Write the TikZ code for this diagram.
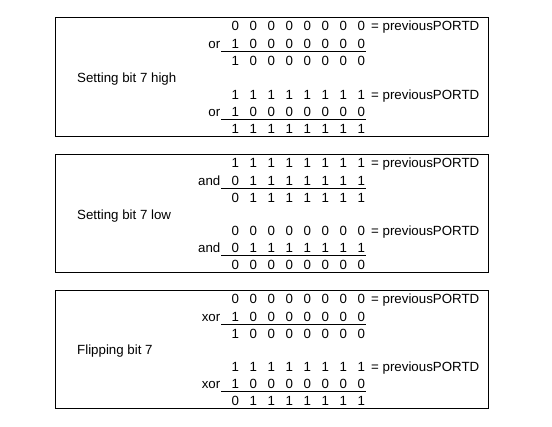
\documentclass[tikz,border=0pt]{standalone}
\usepackage{fontspec}
\setmainfont{Liberation Sans}
\newcommand{\txtfont}{\fontsize{13.3}{16}\selectfont}
\tikzset{
  bit/.style={anchor=base, inner sep=0pt, font=\txtfont},
  opname/.style={anchor=base east, inner sep=0pt, font=\txtfont},
  prevtxt/.style={anchor=base west, inner sep=0pt, font=\txtfont},
  lbl/.style={anchor=base west, inner sep=0pt, font=\txtfont},
  frame/.style={draw, line width=1pt, inner sep=0pt, anchor=north west,
    minimum width=433pt, minimum height=118.4pt},
  sumrule/.style={line width=1pt}
}
\newcommand{\bitrow}[3]{%
  \foreach \b [count=\i] in {#3} {\node[bit] (#1c\i) at ({235.4+18*(\i-1)},#2) {\b};}}
% #1 name, #2 top, #3 label, #4 op, #5 operand, #6 r1, #7 r3, #8 r4, #9 r6
\newcommand{\calcbox}[9]{%
  \node[frame] (#1) at (54.5,#2) {};
  \pgfmathsetmacro\ya{#2+9+4.7}
  \pgfmathsetmacro\yb{#2+26.8+4.7}
  \pgfmathsetmacro\yc{#2+44+4.7}
  \pgfmathsetmacro\yl{#2+60.5+4.7}
  \pgfmathsetmacro\yd{#2+77.3+4.7}
  \pgfmathsetmacro\ye{#2+94.3+4.7}
  \pgfmathsetmacro\yf{#2+111.3+4.7}
  \pgfmathsetmacro\ra{#2+34.4}
  \pgfmathsetmacro\rb{#2+102}
  \bitrow{#1ra}{\ya}{#6}
  \node[prevtxt] (#1pa) at (371,\ya) {= previousPORTD};
  \node[opname] (#1oa) at (220.5,\yb) {#4};
  \bitrow{#1rb}{\yb}{#5}
  \coordinate (#1la) at (221,\ra);
  \coordinate (#1lb) at (366,\ra);
  \draw[sumrule] (#1la) -- (#1lb);
  \bitrow{#1rc}{\yc}{#7}
  \node[lbl] (#1lbl) at (77,\yl) {#3};
  \bitrow{#1rd}{\yd}{#8}
  \node[prevtxt] (#1pb) at (371,\yd) {= previousPORTD};
  \node[opname] (#1ob) at (220.5,\ye) {#4};
  \bitrow{#1re}{\ye}{#5}
  \coordinate (#1lc) at (221,\rb);
  \coordinate (#1ld) at (366,\rb);
  \draw[sumrule] (#1lc) -- (#1ld);
  \bitrow{#1rf}{\yf}{#9}
}
\begin{document}
\begin{tikzpicture}[x=1pt,y=-1pt]
\useasboundingbox (0,0) rectangle (552,427);
\fill[white] (0,0) rectangle (552,427);
\calcbox{A}{17.3}{Setting bit 7 high}{or}{1,0,0,0,0,0,0,0}{0,0,0,0,0,0,0,0}{1,0,0,0,0,0,0,0}{1,1,1,1,1,1,1,1}{1,1,1,1,1,1,1,1}
\calcbox{B}{154}{Setting bit 7 low}{and}{0,1,1,1,1,1,1,1}{1,1,1,1,1,1,1,1}{0,1,1,1,1,1,1,1}{0,0,0,0,0,0,0,0}{0,0,0,0,0,0,0,0}
\calcbox{C}{289.8}{Flipping bit 7}{xor}{1,0,0,0,0,0,0,0}{0,0,0,0,0,0,0,0}{1,0,0,0,0,0,0,0}{1,1,1,1,1,1,1,1}{0,1,1,1,1,1,1,1}
\end{tikzpicture}
\end{document}
